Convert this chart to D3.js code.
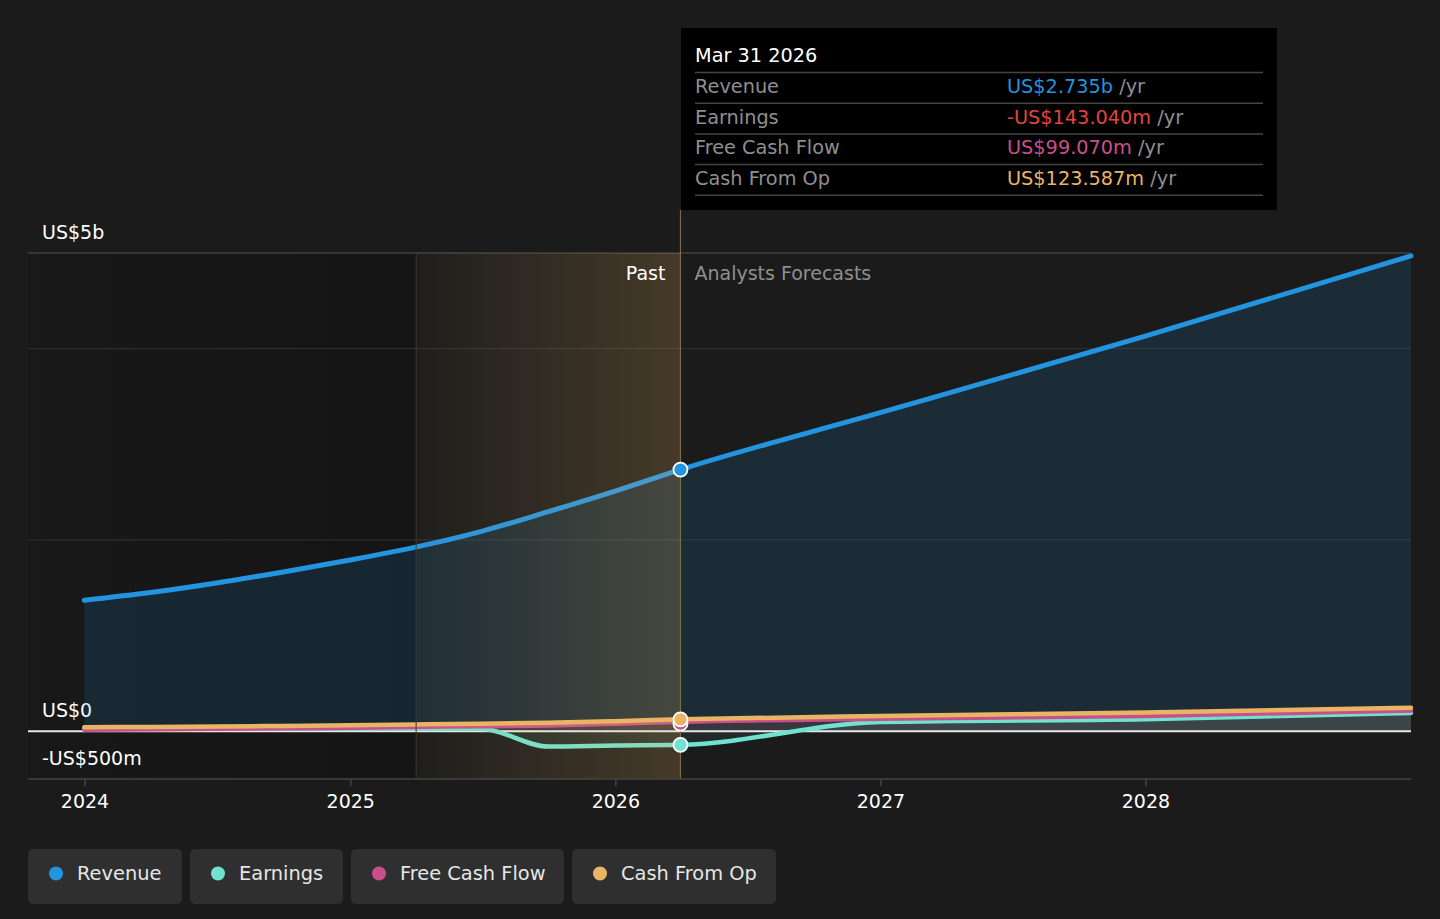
<!DOCTYPE html>
<html>
<head>
<meta charset="utf-8">
<script src="https://cdn.jsdelivr.net/npm/d3@7"></script>
<style>
  html, body { margin: 0; padding: 0; background: #1b1b1b; }
  svg { display: block; font-family: "DejaVu Sans", sans-serif; }
</style>
</head>
<body>
<svg id="chart"></svg>
<script>
// quarterly reported figures, then analyst forecasts (year end)
const pastDates = ["2023-12-31", "2024-03-31", "2024-06-30", "2024-09-30", "2024-12-31",
                   "2025-03-31", "2025-06-30", "2025-09-30", "2025-12-31", "2026-03-31"]
const forecastDates = ["2026-12-31", "2027-12-31", "2028-12-31"]

const revenue = [1370, 1450, 1550, 1665, 1790, 1925, 2090, 2295, 2510, 2735, 3330, 4130, 4970]
const earnings = [22, 24, 26, 28, 28, 30, 25, -160, -150, -143.04, 95, 125, 190]
const freeCashFlow = [15, 20, 25, 30, 35, 45, 52, 60, 78, 99.07, 130, 160, 215]
const cashFromOp = [40, 45, 50, 55, 62, 70, 78, 88, 105, 123.587, 160, 195, 245]

const yTicks = [-500, 0, 2000, 4000, 5000]
const yLabels = { "5000": "US$5b", "0": "US$0", "-500": "-US$500m" }
const xTicks = ["2024", "2025", "2026", "2027", "2028"]

const tooltipDate = "Mar 31 2026"
const tooltipRows = [
  ["Revenue", "US$2.735b"],
  ["Earnings", "-US$143.040m"],
  ["Free Cash Flow", "US$99.070m"],
  ["Cash From Op", "US$123.587m"]
]
const tooltipColors = ["#2394df", "#e0453a", "#c8508a", "#e9b463"]

const seriesNames = ["Revenue", "Earnings", "Free Cash Flow", "Cash From Op"]
const seriesColors = ["#2394df", "#6fe3cf", "#c8508a", "#e9b463"]

const W = 1440, H = 919
const parse = d3.timeParse("%Y-%m-%d")
const dates = pastDates.concat(forecastDates).map(parse)
const pastStart = parse("2025-04-01")
const nowDate = parse("2026-03-31")

const svg = d3.select("#chart").attr("width", W).attr("height", H)

const x = d3.scaleTime()
  .domain([parse("2024-01-01"), parse("2028-12-31")])
  .range([85, 1411])
const y = d3.scaleLinear().domain([-500, 5000]).range([779, 253])

const left = 28, right = 1411

const defs = svg.append("defs")
const grad = defs.append("linearGradient").attr("id", "pastGrad")
  .attr("x1", "0%").attr("x2", "100%").attr("y1", "0%").attr("y2", "0%")
grad.append("stop").attr("offset", "0%").attr("stop-color", "#f0b860").attr("stop-opacity", 0.02)
grad.append("stop").attr("offset", "100%").attr("stop-color", "#f0b860").attr("stop-opacity", 0.2)

const darkGrad = defs.append("linearGradient").attr("id", "darkGrad")
  .attr("x1", "0%").attr("x2", "100%")
darkGrad.append("stop").attr("offset", "0%").attr("stop-color", "#000").attr("stop-opacity", 0.1)
darkGrad.append("stop").attr("offset", "100%").attr("stop-color", "#000").attr("stop-opacity", 0.25)

// darker band before the highlighted past year
svg.append("rect")
  .attr("x", left).attr("y", y(5000))
  .attr("width", x(pastStart) - left).attr("height", y(-500) - y(5000))
  .attr("fill", "url(#darkGrad)")

// gridlines
svg.append("g").selectAll("line")
  .data(yTicks.filter(d => d > 0))
  .enter().append("line")
  .attr("x1", left).attr("x2", right)
  .attr("y1", d => y(d)).attr("y2", d => y(d))
  .attr("stroke", d => d === 5000 ? "#555" : "#333")
  .attr("stroke-width", 1)

// y labels
svg.append("g").selectAll("text")
  .data(yTicks.filter(d => yLabels[d]))
  .enter().append("text")
  .attr("x", 42)
  .attr("y", d => y(d) - 14)
  .attr("fill", "#fff")
  .attr("font-size", 19)
  .text(d => yLabels[d])

// series areas and lines
const allSeries = [revenue, earnings, freeCashFlow, cashFromOp]
const curve = d3.curveMonotoneX

const area = d3.area().curve(curve)
  .x((d, i) => x(dates[i])).y0(y(0)).y1(d => y(d))
const line = d3.line().curve(curve)
  .x((d, i) => x(dates[i])).y(d => y(d))

const areaOpacity = [0.14, 0.08, 0.08, 0.08]
svg.append("g").selectAll("path")
  .data(allSeries)
  .enter().append("path")
  .attr("d", d => area(d))
  .attr("fill", (d, i) => seriesColors[i])
  .attr("fill-opacity", (d, i) => areaOpacity[i])

// zero line
svg.append("line")
  .attr("x1", left).attr("x2", right)
  .attr("y1", y(0)).attr("y2", y(0))
  .attr("stroke", "#e8e8e8").attr("stroke-width", 2)

// orange drawn last so it sits on top like the reference
const drawOrder = [0, 1, 2, 3]
svg.append("g").selectAll("path")
  .data(drawOrder)
  .enter().append("path")
  .attr("d", i => line(allSeries[i]))
  .attr("fill", "none")
  .attr("stroke", i => seriesColors[i])
  .attr("stroke-width", i => i === 0 ? 5 : 4.5)
  .attr("stroke-linecap", "round")

// past overlay
svg.append("rect")
  .attr("x", x(pastStart)).attr("y", y(5000))
  .attr("width", x(nowDate) - x(pastStart)).attr("height", y(-500) - y(5000))
  .attr("fill", "url(#pastGrad)")

svg.append("line")
  .attr("x1", x(pastStart)).attr("x2", x(pastStart))
  .attr("y1", y(5000)).attr("y2", y(-500))
  .attr("stroke", "#3c3a32").attr("stroke-width", 1)

svg.append("line")
  .attr("x1", x(nowDate)).attr("x2", x(nowDate))
  .attr("y1", 210).attr("y2", y(-500))
  .attr("stroke", "#7d6a48").attr("stroke-width", 1.2)

svg.append("text")
  .attr("x", x(nowDate) - 15).attr("y", 280)
  .attr("text-anchor", "end").attr("fill", "#fff").attr("font-size", 19)
  .text("Past")
svg.append("text")
  .attr("x", x(nowDate) + 14).attr("y", 280)
  .attr("fill", "#8f8f8f").attr("font-size", 19)
  .text("Analysts Forecasts")

// bottom axis
const xAxis = svg.append("g").attr("transform", "translate(0," + y(-500) + ")")
xAxis.append("line")
  .attr("x1", left).attr("x2", right)
  .attr("stroke", "#444").attr("stroke-width", 1.5)
xAxis.selectAll("g.tick")
  .data(xTicks)
  .enter().append("g")
  .attr("class", "tick")
  .attr("transform", d => "translate(" + x(parse(d + "-01-01")) + ",0)")
  .each(function (d) {
    const g = d3.select(this)
    g.append("line").attr("y2", 7).attr("stroke", "#444").attr("stroke-width", 1.5)
    g.append("text").attr("y", 29).attr("text-anchor", "middle")
      .attr("fill", "#fff").attr("font-size", 19).text(d)
  })

// highlight dots at the current date
const idx = pastDates.length - 1
const dotOrder = [0, 2, 3, 1]
svg.append("g").selectAll("circle")
  .data(dotOrder)
  .enter().append("circle")
  .attr("cx", x(dates[idx]))
  .attr("cy", i => y(allSeries[i][idx]) + (i === 2 ? 2 : 0))
  .attr("r", 7)
  .attr("fill", i => seriesColors[i])
  .attr("stroke", "#fff").attr("stroke-width", 1.8)

// tooltip
const tip = svg.append("g").attr("transform", "translate(681,28)")
tip.append("rect").attr("width", 596).attr("height", 182).attr("fill", "#000")
tip.append("text").attr("x", 14).attr("y", 34)
  .attr("fill", "#fff").attr("font-size", 19.3).text(tooltipDate)
const rowH = 30.7
tip.selectAll("line.sep")
  .data(d3.range(tooltipRows.length + 1))
  .enter().append("line")
  .attr("class", "sep")
  .attr("x1", 14).attr("x2", 582)
  .attr("y1", i => 44.5 + i * rowH).attr("y2", i => 44.5 + i * rowH)
  .attr("stroke", "#444").attr("stroke-width", 1.5)
const rows = tip.selectAll("g.row")
  .data(tooltipRows)
  .enter().append("g")
  .attr("class", "row")
  .attr("transform", (d, i) => "translate(0," + (65 + i * rowH) + ")")
rows.append("text").attr("x", 14).attr("fill", "#8f8f8f").attr("font-size", 19.3)
  .text(d => d[0])
const vals = rows.append("text").attr("x", 326).attr("font-size", 19.3)
vals.append("tspan").attr("fill", (d, i) => tooltipColors[i]).text(d => d[1])
vals.append("tspan").attr("fill", "#8f8f8f").text(" /yr")

// legend
const legendW = [154, 153, 213, 204]
let lx = 28
const legend = svg.append("g")
seriesNames.forEach(function (name, i) {
  const g = legend.append("g").attr("transform", "translate(" + lx + ",849)")
  g.append("rect").attr("width", legendW[i]).attr("height", 55).attr("rx", 5)
    .attr("fill", "#2f2f2f")
  g.append("circle").attr("cx", 28).attr("cy", 24.5).attr("r", 7)
    .attr("fill", seriesColors[i])
  g.append("text").attr("x", 49).attr("y", 31).attr("fill", "#e6e6e6")
    .attr("font-size", 19.4).text(name)
  lx += legendW[i] + 8
})
</script>
</body>
</html>
